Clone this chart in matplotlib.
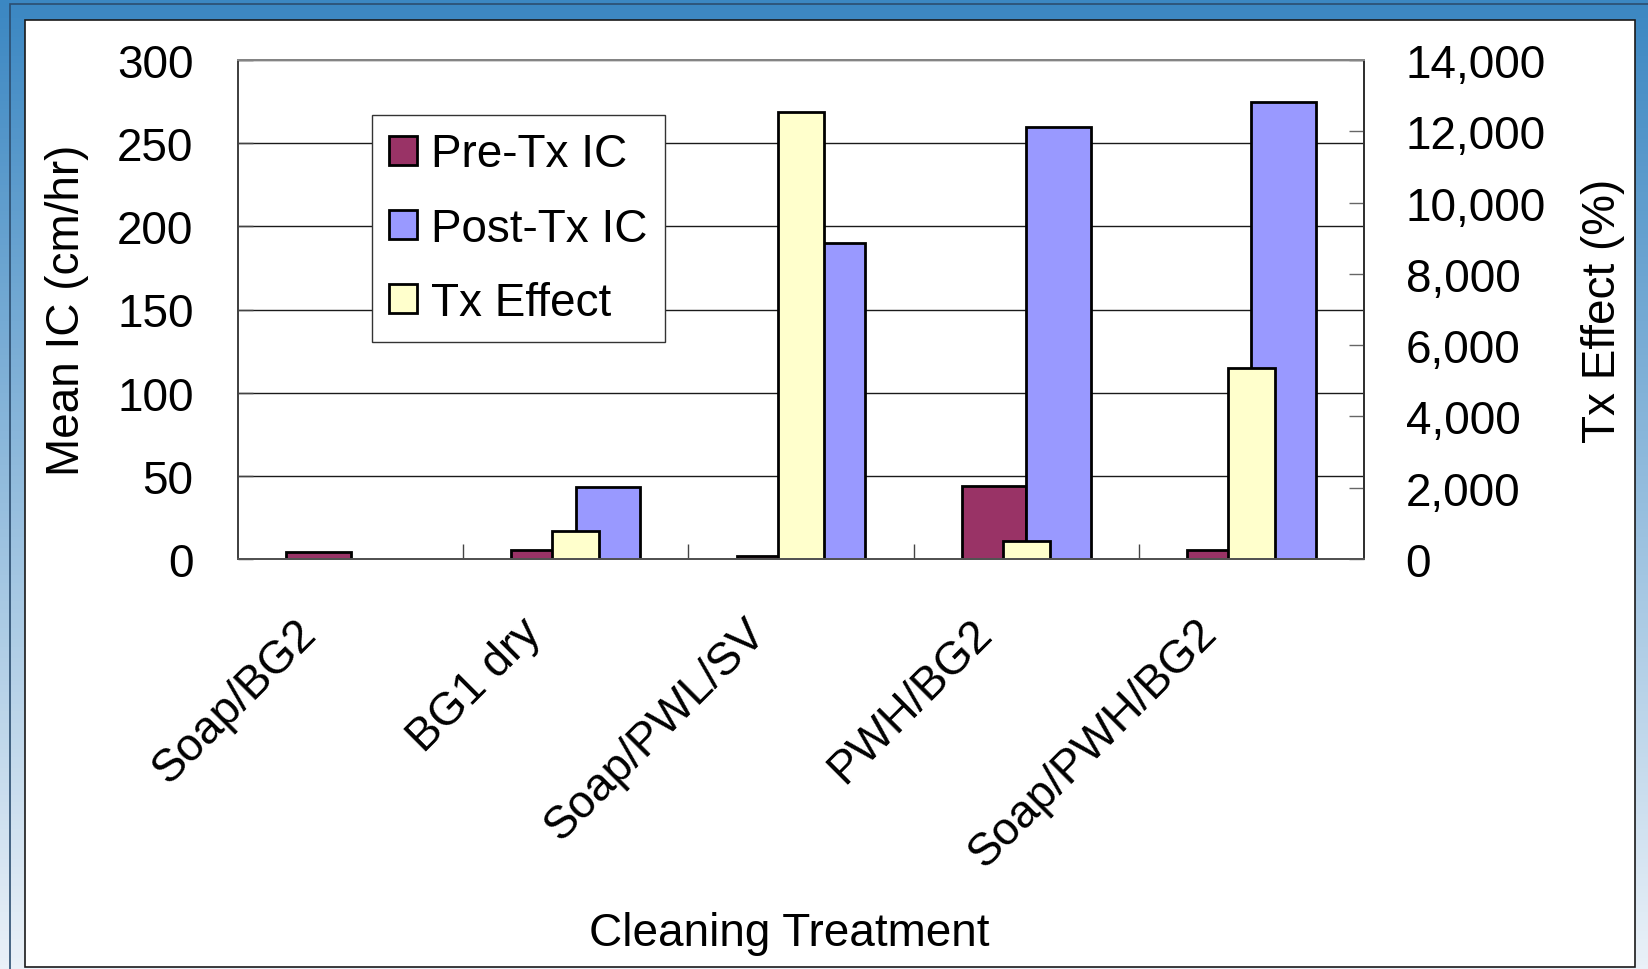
import numpy as np
import matplotlib
matplotlib.use("Agg")
import matplotlib.pyplot as plt
from matplotlib.patches import Rectangle, Patch
from matplotlib.ticker import FuncFormatter
import matplotlib.transforms as mtransforms

plt.rcParams['font.family'] = ['Liberation Sans', 'DejaVu Sans']

# values
treatments = ['Soap/BG2', 'BG1 dry', 'Soap/PWL/SV', 'PWH/BG2', 'Soap/PWH/BG2']
pre_ic = [4.1, 5.7, 2.1, 43.6, 5.6]              # cm/hr
post_ic = [np.nan, 43.0, 190.0, 259.5, 274.5]    # cm/hr
tx_effect = [np.nan, 790, 12540, 495, 5360]      # %

pre_color = '#993366'
post_color = '#9999ff'
tx_color = '#ffffcc'

W, H = 1648, 970
fig = plt.figure(figsize=(W / 100, H / 100), dpi=100)

# blue gradient backdrop + white panel
bg = fig.add_axes([0, 0, 1, 1], zorder=-10)
top = np.array([0x3b, 0x87, 0xc2]) / 255
bot = np.array([0xea, 0xf1, 0xf8]) / 255
t = np.linspace(0, 1, 256)[:, None]
grad = (top * (1 - t) + bot * t)[:, None, :]
bg.imshow(grad, aspect='auto', extent=[0, 1, 0, 1])
bg.set_axis_off()
fig.patches.append(Rectangle((10 / W, -0.01), 1.2, (H - 5) / H + 0.01, transform=fig.transFigure,
                             facecolor='none', edgecolor='#2c4e70', lw=1.2, zorder=-6))
fig.patches.append(Rectangle((25 / W, 2 / H), (1635 - 25) / W, (968 - 21) / H, transform=fig.transFigure,
                             facecolor='white', edgecolor='#1a1a1a', lw=1.2, zorder=-5))

ax = fig.add_axes([238 / W, (H - 560) / H, (1364 - 238) / W, 499 / H])
ax2 = ax.twinx()

x = np.arange(len(treatments))
bw = 0.286
ax.bar(x - bw / 2, pre_ic, bw, color=pre_color, edgecolor='black', lw=2)
ax.bar(x + bw / 2, post_ic, bw, color=post_color, edgecolor='black', lw=2)
ax2.bar(x, tx_effect, 0.207, color=tx_color, edgecolor='black', lw=2)

ax.set_xlim(-0.5, len(treatments) - 0.5)
ax.set_ylim(0, 300)
ax.set_yticks(range(0, 301, 50))
ax2.set_ylim(0, 14000)
ax2.set_yticks(range(0, 14001, 2000))
ax2.yaxis.set_major_formatter(FuncFormatter(lambda v, p: f'{int(v):,}'))

ax.set_axisbelow(True)
ax.yaxis.grid(True, color='#1a1a1a', lw=1.0)

fs = 33
ax.tick_params(axis='y', direction='in', length=11, width=1, color='#444444', labelsize=fs, pad=32)
ax2.tick_params(axis='y', direction='in', length=11, width=1, color='#666666', labelsize=fs, pad=30)

ax.set_xticks(x)
ax.set_xticks(np.arange(0.5, len(treatments) - 1, 1), minor=True)
ax.tick_params(axis='x', which='major', length=0, pad=48)
ax.tick_params(axis='x', which='minor', direction='in', length=11, width=1, color='#444444')
ax.set_xticklabels(treatments, rotation=45, ha='right', va='center', rotation_mode='anchor', fontsize=fs)
off = mtransforms.ScaledTranslation(-41 / 100, 0, fig.dpi_scale_trans)
for lab in ax.get_xticklabels():
    lab.set_transform(lab.get_transform() + off)

for a in (ax, ax2):
    for s in a.spines.values():
        s.set_linewidth(1.4)
ax2.spines['left'].set_color('#444444')
ax2.spines['top'].set_color('#888888')
ax2.spines['bottom'].set_color('#555555')
ax2.spines['right'].set_color('#333333')

ax.set_ylabel('Mean IC (cm/hr)', fontsize=fs)
ax.yaxis.set_label_coords(-0.132, 0.5)
ax2.set_ylabel('Tx Effect (%)', fontsize=fs, rotation=90)
ax2.yaxis.set_label_coords(1.193, 0.5)
ax.set_xlabel('Cleaning Treatment', fontsize=fs)
ax.xaxis.set_label_coords(0.49, -0.705)

handles = [Patch(facecolor=pre_color, edgecolor='black', lw=2),
           Patch(facecolor=post_color, edgecolor='black', lw=2),
           Patch(facecolor=tx_color, edgecolor='black', lw=2)]
leg = ax2.legend(handles, ['Pre-Tx IC', 'Post-Tx IC', 'Tx Effect'], loc='upper left',
                 bbox_to_anchor=(0.119, 0.89), borderaxespad=0, fontsize=fs,
                 fancybox=False, framealpha=1, edgecolor='#333333',
                 handlelength=0.6, handleheight=0.6, handletextpad=0.3,
                 labelspacing=0.66, borderpad=0.38)
leg.get_frame().set_linewidth(1.0)

fig.savefig('out.png', dpi=100)
